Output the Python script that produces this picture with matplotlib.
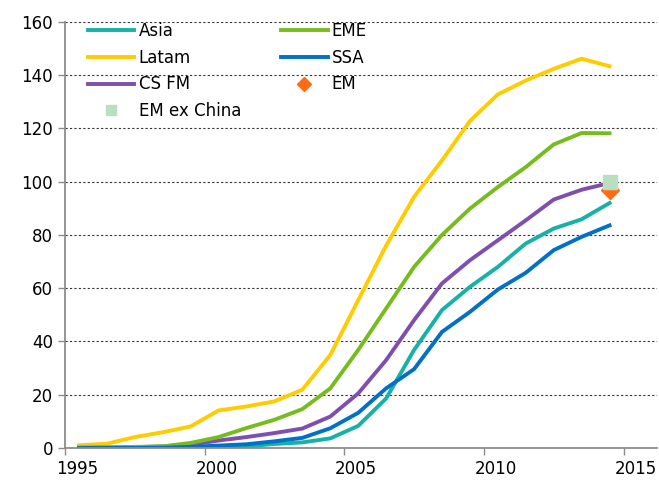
import matplotlib
matplotlib.use('Agg')
import matplotlib.pyplot as plt
import matplotlib.transforms as mtransforms
import numpy as np

years = np.arange(1995, 2015) + 0.5

asia = [0, 0, 0, 0, 0.1, 0.3, 0.6, 1.5, 2.1, 3.6, 8.3, 18.6, 36.8, 51.8, 60.5, 68, 76.8, 82.4, 85.9, 92]
eme = [0.2, 0.3, 0.4, 0.6, 1.9, 4.1, 7.5, 10.6, 14.6, 22.4, 36.8, 52.4, 68, 80, 89.9, 98, 105.5, 114, 118.3, 118.2]
latam = [1, 1.6, 4.1, 5.9, 8.1, 14.1, 15.6, 17.5, 21.9, 34.9, 55.5, 76, 94.3, 108, 122.8, 132.8, 138, 142.4, 146.2, 143.4]
ssa = [0, 0, 0, 0.1, 0.4, 0.9, 1.4, 2.5, 3.8, 7.4, 13.2, 22.4, 29.6, 43.6, 51.1, 59.5, 65.8, 74.3, 79.3, 83.6]
csfm = [0, 0.1, 0.3, 0.6, 1.2, 2.8, 4.1, 5.6, 7.3, 11.8, 20.5, 33, 48, 61.8, 70.5, 78, 85.5, 93.3, 97, 99.5]
em_x = [2014.5]
em = [97]
em_ex_china = [100]

xticks = [1995, 2000, 2005, 2010, 2015]
yticks = np.arange(0, 161, 20)

plt.rcParams['font.family'] = ['DejaVu Sans']
fig = plt.figure(figsize=(6.59, 4.83), dpi=100)
ax = fig.add_axes([0.0986, 0.0725, 0.8984, 0.882])

lw = 2.8
ax.plot(years, asia, color='#17B1A5', lw=lw, label='Asia')
ax.plot(years, latam, color='#FFCC00', lw=lw, label='Latam')
ax.plot(years, csfm, color='#7F4FB0', lw=lw, label='CS FM')
ax.plot(em_x, em_ex_china, ls='none', marker='s', ms=9.5, color='#B8E0C0', label='EM ex China', zorder=6)
ax.plot(years, eme, color='#77BC1F', lw=lw, label='EME')
ax.plot(years, ssa, color='#0070C8', lw=lw, label='SSA')
ax.plot(em_x, em, ls='none', marker='D', ms=9.5, color='#FF6A13', label='EM', zorder=5)

ax.set_xlim(1995, 2016.2)
ax.set_ylim(0, 160)
ax.set_xticks(xticks)
ax.set_yticks(yticks)
ax.tick_params(axis='both', labelsize=12, colors='#000000', length=5, width=1, direction='out')
ax.tick_params(axis='both', color='#8C8C8C')
ax.tick_params(axis='x', pad=4)

# shift x labels right like the original
offset = mtransforms.ScaledTranslation(0.12, 0, fig.dpi_scale_trans)
for lab in ax.get_xticklabels():
    lab.set_transform(lab.get_transform() + offset)

ax.grid(axis='y', color='#333333', ls=(0, (2, 2)), lw=0.8)
ax.set_axisbelow(True)
for s in ['top', 'right']:
    ax.spines[s].set_visible(False)
for s in ['left', 'bottom']:
    ax.spines[s].set_color('#8C8C8C')
    ax.spines[s].set_linewidth(1.3)

leg = ax.legend(ncol=2, loc='upper left', bbox_to_anchor=(0.013, 1.035), frameon=False,
                fontsize=12, handlelength=2.8, handletextpad=0.25, columnspacing=2.4,
                labelspacing=0.52, markerscale=0.7)

fig.savefig('out.png', dpi=100)
